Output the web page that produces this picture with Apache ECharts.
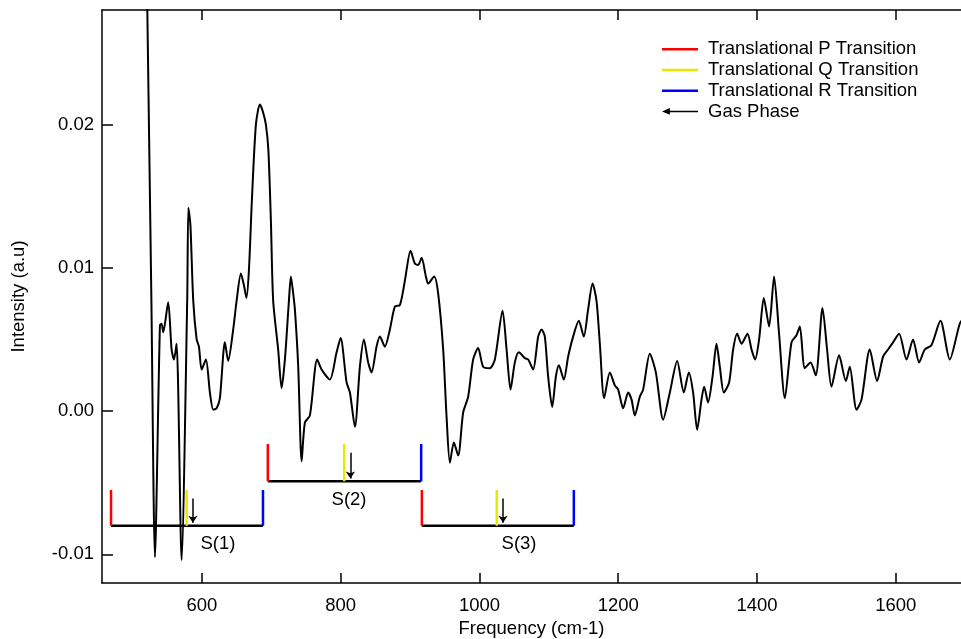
<!DOCTYPE html>
<html>
<head>
<meta charset="utf-8">
<script src="https://cdn.jsdelivr.net/npm/echarts@6/dist/echarts.min.js"></script>
<style>
html,body{margin:0;padding:0;background:#fff;}
#chart{width:961px;height:639px;}
</style>
</head>
<body>
<div id="chart"></div>
<script>
// ---- Data ----
const specX = [520.7,527.2,532.3,539.5,541.9,544.2,551.4,556.3,559.7,563.5,
570.7,578.8,580.5,583.4,587.5,592.4,595.7,599.6,605.8,611.5,
616.3,621.2,625.9,633.1,637.9,645.1,650.0,656.2,660.5,664.1,
667.7,672.0,677.8,683.6,687.9,692.2,695.8,699.4,702.7,709.9,
714.8,719.6,725.4,728.2,731.1,734.0,738.8,743.7,748.4,755.6,
766.1,772.5,784.4,794.1,799.9,808.5,813.3,820.5,827.7,833.4,
839.6,844.5,851.7,856.5,863.7,870.9,878.1,885.3,892.5,900.7,
906.9,911.7,916.6,922.8,926.1,934.7,940.5,947.7,952.6,957.4,
963.1,969.3,976.5,983.7,990.9,998.1,1005.3,1015.0,1022.2,1033.3,
1039.1,1044.8,1051.0,1056.8,1065.4,1070.2,1077.4,1084.6,1089.5,1094.2,
1099.0,1104.8,1110.1,1114.4,1121.6,1127.8,1135.0,1143.2,1150.4,1156.6,
1163.0,1168.7,1173.5,1179.7,1187.9,1195.1,1199.9,1207.1,1214.3,1219.2,
1223.9,1231.1,1235.9,1245.5,1254.2,1264.7,1274.4,1284.9,1294.5,1301.7,
1307.9,1313.7,1320.0,1323.8,1329.5,1335.9,1341.6,1346.4,1352.2,1359.8,
1365.6,1371.4,1377.7,1386.3,1392.1,1397.3,1403.0,1409.8,1417.4,1424.6,
1431.8,1440.1,1449.7,1456.9,1461.7,1468.9,1477.1,1484.7,1494.4,1501.0,
1507.3,1518.3,1528.0,1533.7,1543.4,1550.6,1562.5,1573.1,1581.7,1588.9,
1596.1,1604.8,1615.4,1624.9,1633.6,1641.8,1651.4,1664.4,1677.8,1692.2,
1699.4];
const specY = [0.0301,0.0077,-0.0102,0.0060,0.0061,0.0055,0.0076,0.0043,0.0036,0.0047,
-0.0104,0.0077,0.0142,0.0130,0.0077,0.0050,0.0045,0.0029,0.0036,0.0013,
0.0001,0.0002,0.0009,0.0048,0.0035,0.0057,0.0077,0.0096,0.0088,0.0079,
0.0098,0.0147,0.0200,0.0214,0.0209,0.0200,0.0182,0.0133,0.0077,0.0043,
0.0016,0.0036,0.0077,0.0094,0.0084,0.0071,0.0031,-0.0035,-0.0008,-0.0003,
0.0036,0.0029,0.0022,0.0041,0.0051,0.0020,0.0013,-0.0011,0.0031,0.0050,
0.0034,0.0027,0.0045,0.0052,0.0045,0.0057,0.0073,0.0074,0.0091,0.0112,
0.0103,0.0102,0.0107,0.0094,0.0089,0.0094,0.0082,0.0043,-0.0004,-0.0036,
-0.0022,-0.0031,-0.0001,0.0010,0.0036,0.0044,0.0031,0.0030,0.0036,0.0070,
0.0043,0.0015,0.0034,0.0041,0.0037,0.0036,0.0029,0.0052,0.0057,0.0052,
0.0024,0.0003,0.0024,0.0032,0.0022,0.0038,0.0052,0.0063,0.0052,0.0071,
0.0089,0.0077,0.0047,0.0009,0.0027,0.0018,0.0015,0.0002,0.0013,0.0008,
-0.0003,0.0010,0.0015,0.0040,0.0027,-0.0006,0.0013,0.0035,0.0013,0.0027,
0.0013,-0.0013,0.0008,0.0017,0.0006,0.0024,0.0047,0.0031,0.0013,0.0020,
0.0043,0.0054,0.0047,0.0054,0.0043,0.0036,0.0050,0.0079,0.0059,0.0094,
0.0054,0.0009,0.0048,0.0053,0.0059,0.0030,0.0034,0.0025,0.0072,0.0043,
0.0017,0.0039,0.0021,0.0031,0.0001,0.0008,0.0043,0.0021,0.0038,0.0043,
0.0048,0.0054,0.0036,0.0050,0.0034,0.0043,0.0046,0.0063,0.0036,0.0061,
0.0066];

// Rotational S(J) transitions: P, Q, R branch positions and gas phase line
const sLabels = ['S(1)', 'S(2)', 'S(3)'];
const transP = [469, 695, 917];
const transQ = [578, 805, 1025];
const transR = [688, 916, 1136];
const gasPhase = [587, 814, 1034];
const bracketBase = [-0.0080, -0.0049, -0.0080];
const bracketTop = [-0.0055, -0.0023, -0.0055];
const arrowTop = [-0.0061, -0.0029, -0.0061];
const arrowTip = [-0.0078, -0.0047, -0.0078];
const labelX = [623, 812, 1057];
const labelY = [-0.0093, -0.0062, -0.0093];

const xTicks = [600, 800, 1000, 1200, 1400, 1600];
const yTicks = [-0.01, 0.00, 0.01, 0.02];
const xRange = [456, 1694];
const yRange = [-0.012, 0.028];

const legendNames = ['Translational P Transition', 'Translational Q Transition', 'Translational R Transition', 'Gas Phase'];

// ---- Chart ----
const FONT = 'Liberation Sans, Arial, sans-serif';
const FS = 18.5;
const chart = echarts.init(document.getElementById('chart'), null, {renderer: 'canvas'});

const series = [];
series.push({
  name: 'spectrum', type: 'line', xAxisIndex: 0, yAxisIndex: 0,
  data: specX.map((x, i) => [x, specY[i]]),
  showSymbol: false, symbol: 'none', smooth: 0.25,
  lineStyle: {color: '#000', width: 2}, z: 3, silent: true
});
for (let i = 0; i < sLabels.length; i++) {
  series.push({
    name: 'bracket', type: 'line', symbol: 'none', silent: true, z: 4,
    data: [[transP[i], bracketBase[i]], [transR[i], bracketBase[i]]],
    lineStyle: {color: '#000', width: 2.5}
  });
  const branches = [[legendNames[0], transP[i], '#ff0000'], [legendNames[1], transQ[i], '#e8e800'], [legendNames[2], transR[i], '#0000ff']];
  branches.forEach(b => {
    series.push({
      name: b[0], type: 'line', symbol: 'none', silent: true, z: 5,
      data: [[b[1], bracketBase[i]], [b[1], bracketTop[i]]],
      itemStyle: {color: b[2]},
      lineStyle: {color: b[2], width: 2.5}
    });
  });
}
series.push({
  name: legendNames[3], type: 'scatter', data: [], silent: true,
  itemStyle: {color: '#000', opacity: 1},
  markLine: {
    silent: true, symbol: ['none', 'arrow'], symbolSize: 7,
    label: {show: false},
    lineStyle: {color: '#000', width: 1.5, type: 'solid', opacity: 1},
    data: gasPhase.map((g, i) => [{coord: [g, arrowTop[i]]}, {coord: [g, arrowTip[i]]}])
  },
  z: 6
});
series.push({
  name: 'labels', type: 'scatter', symbolSize: 0, silent: true,
  itemStyle: {opacity: 1},
  data: labelX.map((x, i) => ({value: [x, labelY[i]], name: sLabels[i]})),
  label: {show: true, position: 'inside', formatter: p => p.name, color: '#000', opacity: 1, fontFamily: FONT, fontSize: FS}
});

const lineIcon = 'path://M0,0 L36,0 L36,2.5 L0,2.5 Z';
const arrowIcon = 'path://M0,3 L7,0 L7,2.3 L32,2.3 L32,3.7 L7,3.7 L7,6 Z';

const option = {
  animation: false,
  backgroundColor: '#fff',
  grid: {left: 102, right: 0, top: 10, bottom: 56, containLabel: false, outerBoundsMode: 'none'},
  legend: {
    orient: 'vertical', left: 662, top: 39, padding: 0,
    itemWidth: 36, itemHeight: 14, itemGap: 0,
    data: [
      {name: legendNames[0], icon: lineIcon},
      {name: legendNames[1], icon: lineIcon},
      {name: legendNames[2], icon: lineIcon},
      {name: legendNames[3], icon: arrowIcon, itemStyle: {color: '#000', opacity: 1}}
    ],
    textStyle: {fontFamily: FONT, fontSize: FS, color: '#000', lineHeight: 20.7, padding: [0, 0, 0, 5]},
    selectedMode: false
  },
  xAxis: [{
    type: 'value', min: xRange[0], max: xRange[1], position: 'bottom',
    name: 'Frequency (cm-1)', nameLocation: 'middle', nameGap: 36,
    nameTextStyle: {fontFamily: FONT, fontSize: FS, color: '#000'},
    axisLine: {show: true, onZero: false, lineStyle: {color: '#000', width: 1.5}},
    axisTick: {show: true, inside: true, length: 10, customValues: xTicks, lineStyle: {color: '#000', width: 1.5}},
    axisLabel: {show: true, customValues: xTicks, margin: 13, fontFamily: FONT, fontSize: FS, color: '#000', formatter: v => String(v)},
    splitLine: {show: false}
  }, {
    type: 'value', min: xRange[0], max: xRange[1], position: 'top',
    axisLine: {show: true, onZero: false, lineStyle: {color: '#000', width: 1.5}},
    axisTick: {show: true, inside: true, length: 10, customValues: xTicks, lineStyle: {color: '#000', width: 1.5}},
    axisLabel: {show: false},
    splitLine: {show: false}
  }],
  yAxis: [{
    type: 'value', min: yRange[0], max: yRange[1], position: 'left',
    name: 'Intensity (a.u)', nameLocation: 'middle', nameGap: 74,
    nameTextStyle: {fontFamily: FONT, fontSize: FS, color: '#000'},
    axisLine: {show: true, onZero: false, lineStyle: {color: '#000', width: 1.5}},
    axisTick: {show: true, inside: true, length: 11, customValues: yTicks, lineStyle: {color: '#000', width: 1.5}},
    axisLabel: {show: true, customValues: yTicks, margin: 8, fontFamily: FONT, fontSize: FS, color: '#000', formatter: v => v.toFixed(2)},
    splitLine: {show: false}
  }],
  series: series
};
chart.setOption(option);
</script>
</body>
</html>
